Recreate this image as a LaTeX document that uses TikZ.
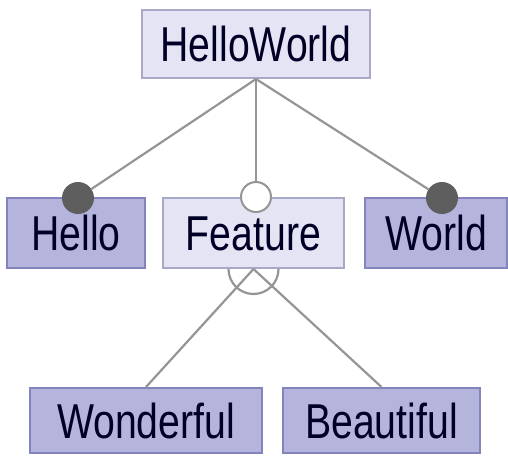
\documentclass[tikz,border=0pt]{standalone}
\usepackage{fontspec}
\setmainfont[FakeStretch=0.8]{Liberation Sans}
\definecolor{boxlight}{HTML}{E4E4F4}
\definecolor{boxdark}{HTML}{B4B4DC}
\definecolor{edgelight}{HTML}{A8A8C8}
\definecolor{edgedark}{HTML}{8484BC}
\definecolor{linkgray}{HTML}{959595}
\definecolor{dotgray}{HTML}{5E5E5E}
\begin{document}
\begin{tikzpicture}[x=1pt,y=1pt,
		feat/.style={draw,line width=2pt,inner sep=0pt,text height=35pt,text depth=0pt,
			font=\fontsize{49}{55}\selectfont,text=black!85!blue},
		abstr/.style={feat,fill=boxlight,draw=edgelight},
		concr/.style={feat,fill=boxdark,draw=edgedark},
		link/.style={linkgray,line width=2.2pt},
		mand/.style={circle,fill=dotgray,minimum size=32pt,inner sep=0pt},
		opt/.style={circle,fill=white,draw=linkgray,line width=2pt,minimum size=30pt,inner sep=0pt}]
		\useasboundingbox (0,0) rectangle (508,-455);
		
		% features
		\node[abstr,minimum width=228pt,minimum height=68pt] (root) at (256,-44) {HelloWorld};
		\node[concr,minimum width=138pt,minimum height=70pt] (hello) at (76,-233) {Hello};
		\node[abstr,minimum width=181pt,minimum height=70pt] (feature) at (253.5,-233) {Feature};
		\node[concr,minimum width=142pt,minimum height=70pt] (world) at (436,-233) {World};
		\node[concr,minimum width=232pt,minimum height=65pt] (wonderful) at (146,-420.5) {Wonderful};
		\node[concr,minimum width=197pt,minimum height=65pt] (beautiful) at (381.5,-420.5) {Beautiful};
		
		% mandatory / optional
		\node[mand] (mhello) at (78,-198) {};
		\node[opt] (ofeature) at (256,-197) {};
		\node[mand] (mworld) at (442,-198) {};
		
		\draw[link] (root.south) -- (mhello);
		\draw[link] (root.south) -- (ofeature);
		\draw[link] (root.south) -- (mworld);
		
		% alternative group
		\draw[link] (feature.south) -- (wonderful.north);
		\draw[link] (feature.south) -- (beautiful.north);
		\draw[link] (feature.south) ++(-25pt,0) arc (180:360:25pt);
		
	\end{tikzpicture}
\end{document}
